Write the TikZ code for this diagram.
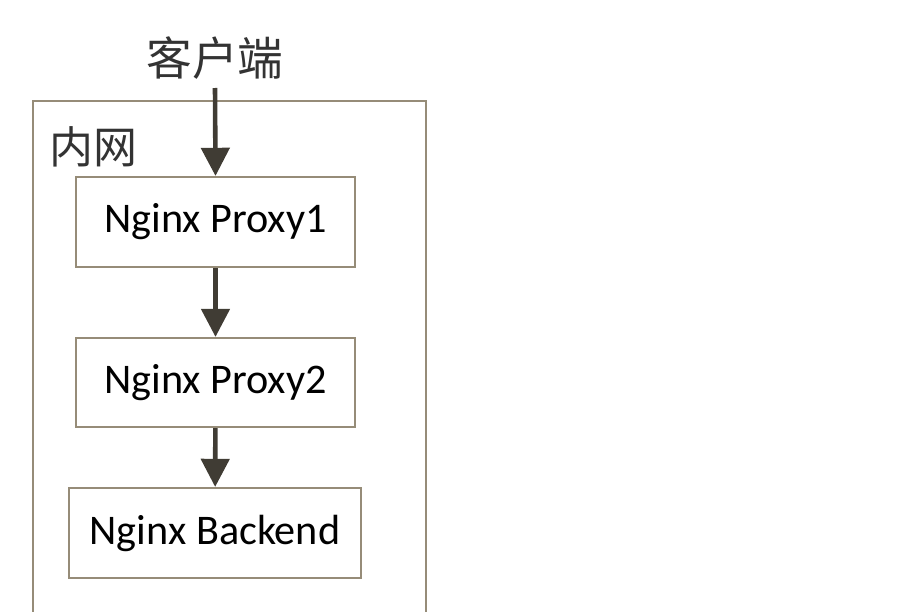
\documentclass[tikz,border=0pt]{standalone}
\usepackage{fontspec}
\setmainfont{Carlito}
\newfontfamily\cjk{Noto Sans CJK SC}
\usetikzlibrary{arrows.meta}
\definecolor{frameclr}{RGB}{150,140,120}
\definecolor{arrowclr}{RGB}{64,60,52}
\begin{document}
\begin{tikzpicture}[x=0.01cm, y=-0.01cm,
  box/.style={draw=frameclr, line width=0.6pt, fill=white, font=\fontsize{12}{14}\selectfont},
  flow/.style={draw=arrowclr, line width=1.3pt, -{Triangle[length=8pt, width=8pt]}}]
  \useasboundingbox (0,0) rectangle (908,612);
  \draw[frameclr, line width=0.6pt] (33,640) -- (33,101) -- (426,101) -- (426,640);
  \node[font=\cjk\fontsize{13}{15}\selectfont, text=black!80] (client) at (215,58) {客户端};
  \node[font=\cjk\fontsize{12.5}{14}\selectfont, text=black!80] (lan) at (93,147) {内网};
  \node[box, minimum width=2.79cm, minimum height=0.9cm] (proxyA) at (215.5,222) {Nginx Proxy1};
  \node[box, minimum width=2.79cm, minimum height=0.89cm] (proxyB) at (215.5,382.5) {Nginx Proxy2};
  \node[box, minimum width=2.92cm, minimum height=0.9cm] (backend) at (215,533) {Nginx Backend};
  \coordinate (entry) at (215,88);
  \draw[flow] (entry) -- (proxyA.north);
  \draw[flow] (proxyA) -- (proxyB);
  \draw[flow] (proxyB) -- (backend);
\end{tikzpicture}
\end{document}
